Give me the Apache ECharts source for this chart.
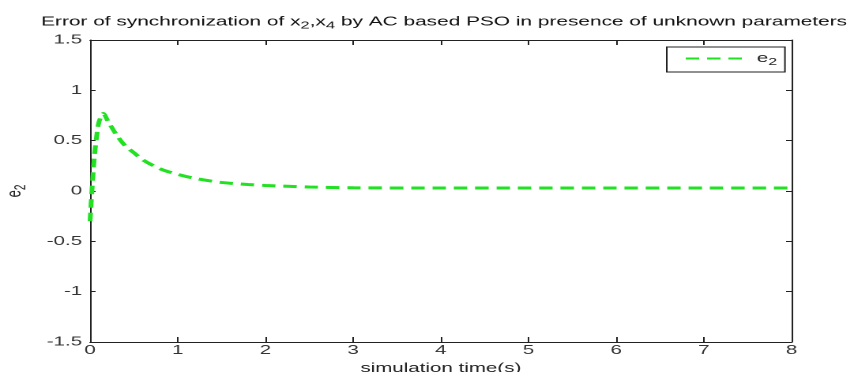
<!DOCTYPE html>
<html>
<head>
<meta charset="utf-8">
<script src="https://cdn.jsdelivr.net/npm/echarts@6/dist/echarts.min.js"></script>
<style>
html,body{margin:0;padding:0;background:#fff;overflow:hidden;}
#wrap{width:850px;height:372px;overflow:hidden;}
#chart{width:538px;height:372px;transform:scaleX(1.58);transform-origin:0 0;}
</style>
</head>
<body>
<div id="wrap"><div id="chart"></div></div>
<script>
// Data
const timeValues = [0, 0.01, 0.03, 0.05, 0.08, 0.1, 0.13, 0.15, 0.2, 0.3, 0.4, 0.5, 0.6, 0.8, 1.0, 1.2, 1.5, 1.8, 2.0, 2.5, 3, 4, 5, 6, 7, 8];
const e2Values   = [-0.3, -0.15, 0.12, 0.35, 0.58, 0.68, 0.75, 0.77, 0.7, 0.56, 0.45, 0.38, 0.31, 0.22, 0.165, 0.125, 0.085, 0.065, 0.055, 0.04, 0.032, 0.03, 0.03, 0.03, 0.03, 0.03];
const xTicks = [0, 8, 1];        // min, max, interval
const yTicks = [-1.5, 1.5, 0.5]; // min, max, interval
const seriesName = 'e2';
const titleParts = ['Error of synchronization of x', '2', ',x', '4', ' by AC based PSO in presence of unknown parameters'];

const font = 'Liberation Sans, Arial, sans-serif';
const chart = echarts.init(document.getElementById('chart'), null, {renderer: 'canvas', devicePixelRatio: 2});

const axisLine = {show: true, onZero: false, lineStyle: {color: '#222', width: 1}};

chart.setOption({
  animation: false,
  backgroundColor: '#fff',
  title: {
    text: `{n|${titleParts[0]}}{s|${titleParts[1]}}{n|${titleParts[2]}}{s|${titleParts[3]}}{n|${titleParts[4]}}`,
    left: 21, top: 8,
    textStyle: {
      fontFamily: font, fontSize: 13.2, fontWeight: 'normal', color: '#111',
      rich: {
        n: {fontFamily: font, fontSize: 13.2, color: '#111'},
        s: {fontFamily: font, fontSize: 10.5, color: '#111', padding: [7, 0, 0, 0]}
      }
    }
  },
  legend: {
    left: 422, top: 47,
    padding: [5, 5, 5, 11],
    borderColor: '#222', borderWidth: 1,
    backgroundColor: '#fff',
    itemWidth: 40, itemHeight: 14,
    itemStyle: {opacity: 0},
    data: [seriesName],
    formatter: () => '{a|e}{b|2}',
    textStyle: {
      fontFamily: font, fontSize: 13, color: '#222',
      rich: {
        a: {fontFamily: font, fontSize: 13, color: '#222'},
        b: {fontFamily: font, fontSize: 10, color: '#222', padding: [7, 0, 0, 0]}
      }
    }
  },
  grid: {left: 57, right: 37, top: 40, bottom: 30, containLabel: false, outerBoundsMode: 'none'},
  xAxis: [
    {
      type: 'value', min: xTicks[0], max: xTicks[1], interval: xTicks[2],
      position: 'bottom',
      name: 'simulation time(s)', nameLocation: 'middle', nameGap: 15,
      nameTextStyle: {fontFamily: font, fontSize: 13, color: '#222'},
      axisLine: axisLine,
      axisTick: {show: true, inside: true, length: 5, lineStyle: {color: '#222'}},
      splitLine: {show: false},
      axisLabel: {fontFamily: font, fontSize: 13, color: '#333', margin: 2}
    },
    {
      type: 'value', min: xTicks[0], max: xTicks[1], interval: xTicks[2],
      position: 'top', axisLabel: {show: false},
      axisLine: axisLine,
      axisTick: {show: true, inside: true, length: 5, lineStyle: {color: '#222'}},
      splitLine: {show: false}
    }
  ],
  yAxis: [
    {
      type: 'value', min: yTicks[0], max: yTicks[1], interval: yTicks[2],
      position: 'left',
      name: '{a|e}{b|2}', nameLocation: 'middle', nameGap: 39, nameRotate: 90,
      nameTextStyle: {
        fontFamily: font, fontSize: 13, color: '#222',
        rich: {
          a: {fontFamily: font, fontSize: 13, color: '#222'},
          b: {fontFamily: font, fontSize: 10, color: '#222', padding: [7, 0, 0, 0]}
        }
      },
      axisLine: axisLine,
      axisTick: {show: true, inside: true, length: 3.5, lineStyle: {color: '#222'}},
      splitLine: {show: false},
      axisLabel: {fontFamily: font, fontSize: 13, color: '#333', margin: 5}
    },
    {
      type: 'value', min: yTicks[0], max: yTicks[1], interval: yTicks[2],
      position: 'right', axisLabel: {show: false},
      axisLine: axisLine,
      axisTick: {show: true, inside: true, length: 3.5, lineStyle: {color: '#222'}},
      splitLine: {show: false}
    }
  ],
  series: [{
    name: seriesName,
    type: 'line',
    xAxisIndex: 0, yAxisIndex: 0,
    data: timeValues.map((t, i) => [t, e2Values[i]]),
    showSymbol: false, symbol: 'none',
    smooth: 0.3,
    lineStyle: {color: '#22e022', width: 3, type: [8.5, 5]},
    itemStyle: {color: '#22e022'}
  }]
});
</script>
</body>
</html>
